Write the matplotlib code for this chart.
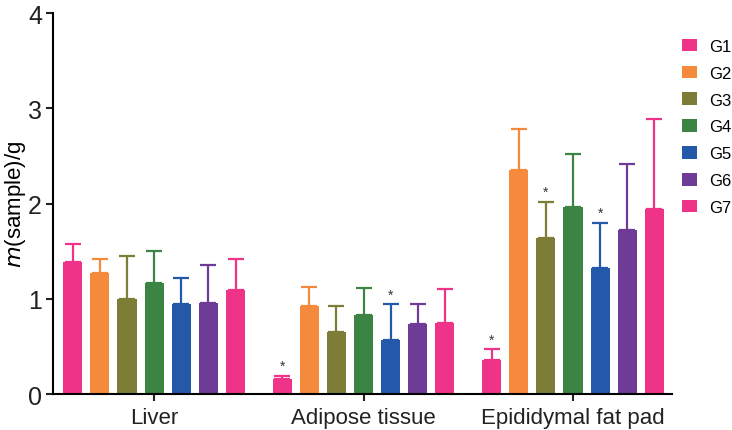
import numpy as np
import matplotlib.pyplot as plt
from matplotlib.patches import Patch

plt.rcParams['font.family'] = ['Liberation Sans', 'DejaVu Sans']

tissues = ['Liver', 'Adipose tissue', 'Epididymal fat pad']
groups = ['G1', 'G2', 'G3', 'G4', 'G5', 'G6', 'G7']
colors = ['#EE3388', '#F58A3D', '#7D7D38', '#3C8443', '#2459A9', '#6E3C96', '#EE3388']

# mean values per group (rows) for each tissue (columns)
means = [
    [1.39, 0.16, 0.36],
    [1.27, 0.92, 2.35],
    [1.00, 0.65, 1.64],
    [1.17, 0.83, 1.96],
    [0.95, 0.57, 1.32],
    [0.96, 0.74, 1.72],
    [1.09, 0.75, 1.94],
]
# upper error (SD)
errors = [
    [0.19, 0.03, 0.11],
    [0.15, 0.20, 0.43],
    [0.45, 0.27, 0.38],
    [0.33, 0.28, 0.56],
    [0.27, 0.37, 0.48],
    [0.39, 0.20, 0.69],
    [0.33, 0.35, 0.95],
]
# significance marks (group index, tissue index)
stars = [(0, 1), (4, 1), (0, 2), (2, 2), (4, 2)]

fig = plt.figure(figsize=(7.32, 4.31), dpi=100)
ax = fig.add_axes([0.0724, 0.0835, 0.846, 0.884])

x = np.arange(len(tissues))
step = 0.1295
width = 0.091
for i, g in enumerate(groups):
    pos = x + (i - 3) * step
    ax.bar(pos, means[i], width, color=colors[i], edgecolor='none')
    ax.errorbar(pos, means[i], yerr=[np.zeros(3), errors[i]], fmt='none',
                ecolor=colors[i], elinewidth=1.6, capsize=5.5, capthick=1.6)

for gi, ti in stars:
    top = means[gi][ti] + errors[gi][ti]
    ax.annotate('*', (x[ti] + (gi - 3) * step, top), xytext=(0, 2),
                textcoords='offset points', ha='center', va='bottom',
                fontsize=10, color='#333344')

ax.set_xlim(-0.483, 2.474)
ax.set_ylim(0, 4)
ax.set_yticks([0, 1, 2, 3, 4])
ax.set_xticks(x)
ax.set_xticklabels(tissues)
ax.tick_params(axis='both', width=1.5, length=5, colors='#222222')
ax.tick_params(axis='x', labelsize=16, pad=4)
ax.tick_params(axis='y', labelsize=18, pad=3)
ax.spines['top'].set_visible(False)
ax.spines['right'].set_visible(False)
ax.spines['left'].set_linewidth(1.5)
ax.spines['bottom'].set_linewidth(1.5)
ax.set_ylabel(r'$m$(sample)/g', fontsize=16, labelpad=0)

handles = [Patch(facecolor=c, edgecolor='none') for c in colors]
fig.legend(handles, groups, loc='upper left', bbox_to_anchor=(0.916, 0.935),
           frameon=False, fontsize=12, handlelength=0.9, handleheight=0.8,
           labelspacing=0.7, handletextpad=0.7, borderpad=0.2)

fig.savefig('out.png', dpi=100)
